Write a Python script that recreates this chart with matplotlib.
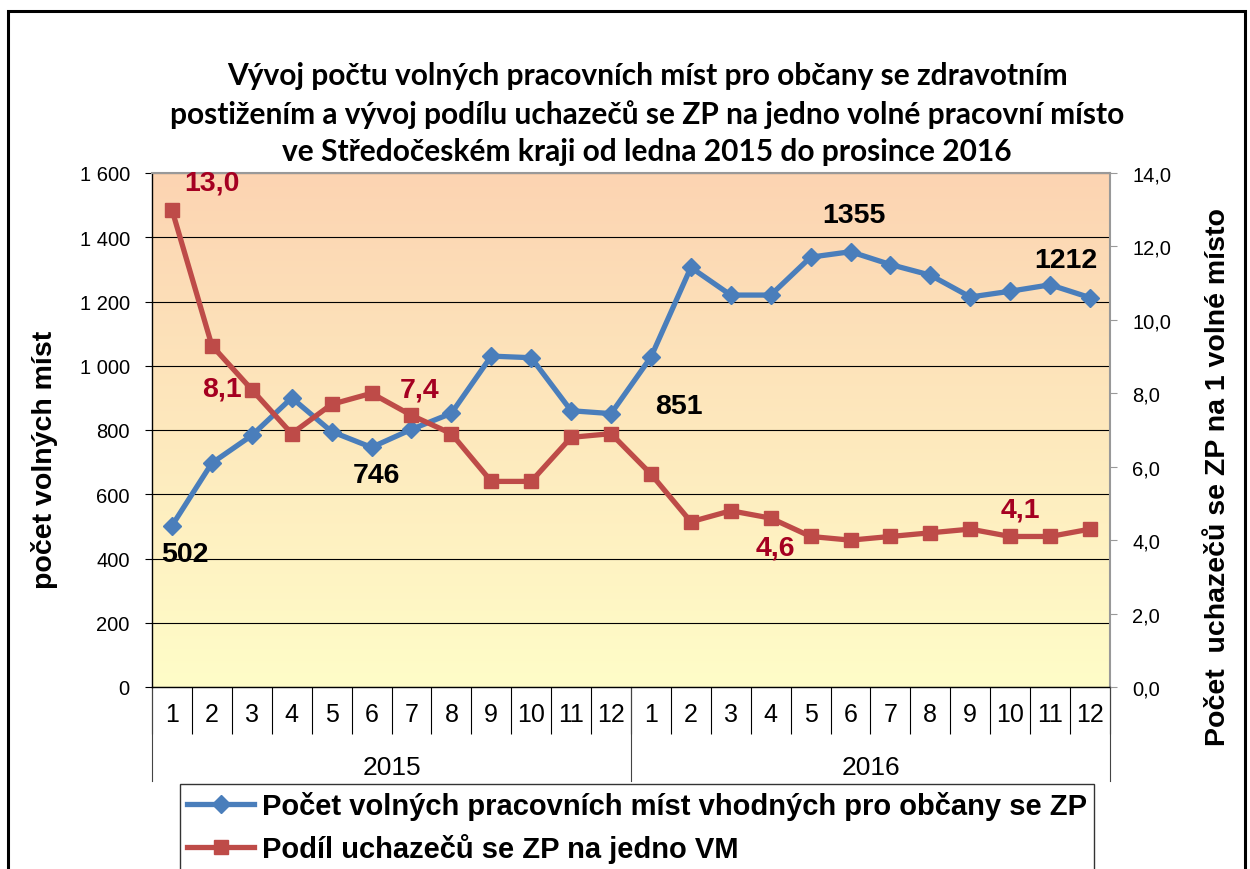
import matplotlib
matplotlib.use("Agg")
import matplotlib.pyplot as plt
import matplotlib.transforms as mtransforms
from matplotlib.patches import Rectangle
from matplotlib.lines import Line2D
import numpy as np

# data
months = [str(m) for m in range(1, 13)] * 2
years = ["2015", "2016"]
volna_mista = [502, 697, 783, 900, 795, 746, 802, 852, 1030, 1025, 860, 851,
               1027, 1306, 1220, 1220, 1338, 1355, 1315, 1282, 1214, 1232, 1252, 1212]
podil = [13.0, 9.3, 8.1, 6.9, 7.7, 8.0, 7.4, 6.9, 5.6, 5.6, 6.8, 6.9,
         5.8, 4.5, 4.8, 4.6, 4.1, 4.0, 4.1, 4.2, 4.3, 4.1, 4.1, 4.3]

title = ("Vývoj počtu volných pracovních míst pro občany se zdravotním\n"
         "postižením a vývoj podílu uchazečů se ZP na jedno volné pracovní místo\n"
         "ve Středočeském kraji od ledna 2015 do prosince 2016")
leg_blue = "Počet volných pracovních míst vhodných pro občany se ZP"
leg_red = "Podíl uchazečů se ZP na jedno VM"
ylab_left = "počet volných míst"
ylab_right = "Počet  uchazečů se ZP na 1 volné místo"

# which points get a value label (index, dx px, dy px)
blue_lbl = [(0, 13, -28), (5, 5, -28), (11, 68, 8), (17, 3, 37), (23, -24, 38)]
red_lbl = [(0, 40, 27), (2, -30, 1), (6, 8, 26), (15, 5, -29), (21, 10, 27)]

ARIAL = ["Liberation Sans", "DejaVu Sans"]

BLUE = "#4A7EBB"
RED = "#BE4B48"
DARKRED = "#A50021"

W, H = 1250, 870
fig = plt.figure(figsize=(W / 100, H / 100), dpi=100)

# outer frame
fig.patches.append(Rectangle((8 / W, -0.02), 1237 / W, 1 - 12 / H + 0.02,
                             transform=fig.transFigure, fill=False,
                             edgecolor="black", linewidth=2.2))

ax = fig.add_axes([152 / W, 1 - 688 / H, 958 / W, 514 / H])
n = len(volna_mista)
x = np.arange(1, n + 1)

# gradient background
grad = np.linspace(0, 1, 256).reshape(-1, 1)
top = np.array([252, 212, 178]) / 255
bot = np.array([255, 253, 200]) / 255
img = top * (1 - grad[..., None]) + bot * grad[..., None]
ax.imshow(img, extent=[0, 1, 0, 1], transform=ax.transAxes, aspect="auto", zorder=0)

ax.set_xlim(0.5, n + 0.5)
ax.set_ylim(0, 1600)
ax.set_yticks(range(0, 1601, 200))
ax.set_yticklabels([f"{v:,}".replace(",", " ") for v in range(0, 1601, 200)],
                   family=ARIAL, fontsize=14.5)
ax.yaxis.grid(True, color="black", linewidth=0.8)
ax.set_axisbelow(True)
ax.tick_params(axis="y", length=5, width=0.8, pad=11)

# category axis: boundaries as major ticks, month labels as minor ticks
ax.set_xticks(np.arange(0.5, n + 1, 1))
ax.set_xticklabels([])
ax.set_xticks(x, minor=True)
ax.set_xticklabels(months, minor=True, family=ARIAL, fontsize=18)
ax.tick_params(axis="x", which="major", length=34, width=0.8, direction="out")
ax.tick_params(axis="x", which="minor", length=0, pad=11)

tr = mtransforms.blended_transform_factory(ax.transData, ax.transAxes)
for b in [0.5, 12.5, 24.5]:
    ax.plot([b, b], [0, -0.183], transform=tr, color="#444444", lw=0.8, clip_on=False)
for i, yr in enumerate(years):
    ax.text(6.5 + 12 * i, -0.155, yr, transform=tr, ha="center", va="center",
            family=ARIAL, fontsize=19)

for s in ["top", "right"]:
    ax.spines[s].set_color("#999999")
    ax.spines[s].set_linewidth(1.5)
ax.spines["left"].set_linewidth(1)
ax.spines["bottom"].set_linewidth(1)

ax.plot(x, volna_mista, color=BLUE, lw=3.8, marker="D", ms=9, zorder=4)

ax2 = ax.twinx()
ax2.set_ylim(0, 14)
ax2.set_yticks(range(0, 15, 2))
ax2.set_yticklabels([f"{v:.1f}".replace(".", ",") for v in range(0, 15, 2)],
                    family=ARIAL, fontsize=14.5)
ax2.tick_params(axis="y", length=5, width=0.8, pad=11, color="#999999")
for s in ["top", "right", "left", "bottom"]:
    ax2.spines[s].set_visible(False)
ax2.plot(x, podil, color=RED, lw=3.8, marker="s", ms=10, zorder=4)

for i, dx, dy in blue_lbl:
    ax.annotate(str(volna_mista[i]), (x[i], volna_mista[i]), xytext=(dx, dy),
                textcoords="offset pixels", ha="center", va="center",
                family=ARIAL, fontsize=20.5, fontweight="bold", color="black", zorder=6)
for i, dx, dy in red_lbl:
    ax2.annotate(f"{podil[i]:.1f}".replace(".", ","), (x[i], podil[i]), xytext=(dx, dy),
                 textcoords="offset pixels", ha="center", va="center",
                 family=ARIAL, fontsize=20.5, fontweight="bold", color=DARKRED, zorder=6)

fig.text(647 / W, 1 - 114 / H, title, ha="center", va="center", family=["Lato", "DejaVu Sans"],
         fontsize=21.5, fontweight="bold", linespacing=1.42)
fig.text(45 / W, 1 - 460 / H, ylab_left, rotation=90, ha="center", va="center",
         family=ARIAL, fontsize=20.5, fontweight="bold")
fig.text(1218 / W, 1 - 477 / H, ylab_right, rotation=90, ha="center", va="center",
         family=ARIAL, fontsize=20.5, fontweight="bold")

handles = [Line2D([], [], color=BLUE, lw=3.8, marker="D", ms=9),
           Line2D([], [], color=RED, lw=3.8, marker="s", ms=10)]
leg = fig.legend(handles, [leg_blue, leg_red], loc="upper left",
                 bbox_to_anchor=(180 / W, 1 - 785 / H), frameon=True, fancybox=False,
                 prop={"family": ARIAL, "size": 21, "weight": "bold"},
                 handlelength=2.3, handletextpad=0.25, borderpad=0.25, labelspacing=0.45,
                 borderaxespad=0)
leg.get_frame().set_edgecolor("black")
leg.get_frame().set_linewidth(1)

fig.savefig("out.png", dpi=100)
